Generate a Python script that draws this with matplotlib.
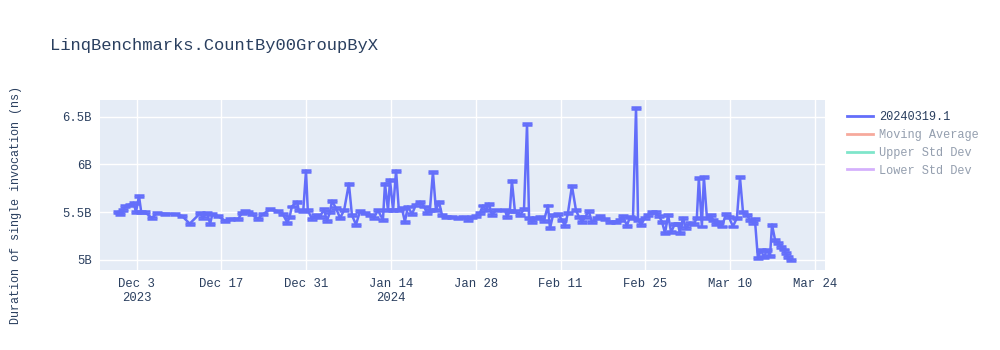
import numpy as np
import pandas as pd
import matplotlib
matplotlib.use("Agg")
import matplotlib.pyplot as plt
from matplotlib.lines import Line2D
from matplotlib.ticker import FuncFormatter

plt.rcParams['font.family'] = ['Liberation Mono', 'DejaVu Sans Mono']

title = "LinqBenchmarks.CountBy00GroupByX"
ylabel = "Duration of single invocation (ns)"
series_name = "20240319.1"
hidden_names = ["Moving Average", "Upper Std Dev", "Lower Std Dev"]

# run timestamps
run_dates = [
    "2023-11-29 21:00", "2023-11-30 06:00", "2023-11-30 18:00", "2023-12-01 03:00",
    "2023-12-01 21:00", "2023-12-02 12:00", "2023-12-02 21:00", "2023-12-03 09:00",
    "2023-12-03 18:00", "2023-12-04 09:00", "2023-12-05 12:00", "2023-12-06 09:00",
    "2023-12-07 15:00", "2023-12-09 09:00", "2023-12-10 12:00", "2023-12-11 18:00",
    "2023-12-13 12:00", "2023-12-13 21:00", "2023-12-14 15:00", "2023-12-15 03:00",
    "2023-12-15 12:00", "2023-12-16 09:00", "2023-12-17 15:00", "2023-12-18 09:00",
    "2023-12-19 18:00", "2023-12-20 09:00", "2023-12-20 21:00", "2023-12-21 09:00",
    "2023-12-22 00:00", "2023-12-23 00:00", "2023-12-23 21:00", "2023-12-25 00:00",
    "2023-12-26 09:00", "2023-12-27 03:00", "2023-12-27 21:00", "2023-12-28 06:00",
    "2023-12-28 15:00", "2023-12-29 12:00", "2023-12-29 18:00", "2023-12-30 12:00",
    "2023-12-30 23:00", "2023-12-31 06:00", "2023-12-31 23:00", "2024-01-01 15:00",
    "2024-01-02 06:00", "2024-01-02 22:00", "2024-01-03 10:00", "2024-01-03 22:00",
    "2024-01-04 06:00", "2024-01-04 22:00", "2024-01-05 14:00", "2024-01-06 06:00",
    "2024-01-07 01:00", "2024-01-07 13:00", "2024-01-08 05:00", "2024-01-08 21:00",
    "2024-01-09 17:00", "2024-01-10 12:00", "2024-01-11 04:00", "2024-01-11 20:00",
    "2024-01-12 16:00", "2024-01-13 00:00", "2024-01-13 12:00", "2024-01-13 20:00",
    "2024-01-14 08:00", "2024-01-14 20:00", "2024-01-15 07:00", "2024-01-15 19:00",
    "2024-01-16 07:00", "2024-01-16 19:00", "2024-01-17 11:00", "2024-01-18 03:00",
    "2024-01-18 19:00", "2024-01-19 11:00", "2024-01-19 22:00", "2024-01-20 10:00",
    "2024-01-20 22:00", "2024-01-21 10:00", "2024-01-21 22:00", "2024-01-22 10:00",
    "2024-01-23 02:00", "2024-01-24 02:00", "2024-01-25 01:00", "2024-01-25 21:00",
    "2024-01-26 17:00", "2024-01-27 09:00", "2024-01-28 01:00", "2024-01-28 16:00",
    "2024-01-29 04:00", "2024-01-29 16:00", "2024-01-30 04:00", "2024-01-30 16:00",
    "2024-01-31 08:00", "2024-02-01 20:00", "2024-02-02 04:00", "2024-02-02 15:00",
    "2024-02-02 23:00", "2024-02-03 11:00", "2024-02-04 07:00", "2024-02-04 23:00",
    "2024-02-05 11:00", "2024-02-05 19:00", "2024-02-06 07:00", "2024-02-06 22:00",
    "2024-02-07 14:00", "2024-02-08 06:00", "2024-02-08 22:00", "2024-02-09 06:00",
    "2024-02-09 18:00", "2024-02-10 14:00", "2024-02-11 05:00", "2024-02-11 17:00",
    "2024-02-12 05:00", "2024-02-12 21:00", "2024-02-13 13:00", "2024-02-14 01:00",
    "2024-02-14 13:00", "2024-02-15 01:00", "2024-02-15 16:00", "2024-02-16 04:00",
    "2024-02-17 00:00", "2024-02-17 12:00", "2024-02-18 08:00", "2024-02-19 04:00",
    "2024-02-20 03:00", "2024-02-20 19:00", "2024-02-21 07:00", "2024-02-21 23:00",
    "2024-02-22 11:00", "2024-02-22 23:00", "2024-02-23 11:00", "2024-02-23 19:00",
    "2024-02-24 07:00", "2024-02-24 22:00", "2024-02-25 10:00", "2024-02-26 02:00",
    "2024-02-26 18:00", "2024-02-27 06:00", "2024-02-27 18:00", "2024-02-28 06:00",
    "2024-02-28 18:00", "2024-02-29 06:00", "2024-02-29 21:00", "2024-03-01 09:00",
    "2024-03-01 17:00", "2024-03-02 05:00", "2024-03-02 17:00", "2024-03-03 09:00",
    "2024-03-04 01:00", "2024-03-04 12:00", "2024-03-04 20:00", "2024-03-05 08:00",
    "2024-03-05 16:00", "2024-03-06 04:00", "2024-03-06 20:00", "2024-03-07 04:00",
    "2024-03-07 16:00", "2024-03-08 04:00", "2024-03-08 16:00", "2024-03-09 07:00",
    "2024-03-09 19:00", "2024-03-10 11:00", "2024-03-11 03:00", "2024-03-11 15:00",
    "2024-03-12 03:00", "2024-03-12 19:00", "2024-03-13 06:00", "2024-03-13 18:00",
    "2024-03-14 02:00", "2024-03-14 14:00", "2024-03-15 02:00", "2024-03-15 14:00",
    "2024-03-16 02:00", "2024-03-16 14:00", "2024-03-16 22:00", "2024-03-17 10:00",
    "2024-03-17 22:00", "2024-03-18 09:00", "2024-03-18 21:00", "2024-03-19 05:00",
    "2024-03-19 13:00", "2024-03-20 01:00",
]

# mean duration per run, billions of ns
duration_b = [
    5.50, 5.48, 5.52, 5.565, 5.58, 5.60, 5.50, 5.67,
    5.50, 5.50, 5.44, 5.49, 5.485, 5.48, 5.46, 5.38,
    5.49, 5.44, 5.49, 5.38, 5.48, 5.46, 5.41, 5.43,
    5.43, 5.49, 5.51, 5.50, 5.48, 5.43, 5.48, 5.53,
    5.51, 5.48, 5.39, 5.45, 5.56, 5.61, 5.52, 5.51,
    5.935, 5.52, 5.43, 5.47, 5.45, 5.53, 5.41, 5.50,
    5.62, 5.54, 5.44, 5.52, 5.80, 5.47, 5.37, 5.51,
    5.49, 5.47, 5.44, 5.52, 5.42, 5.80, 5.52, 5.84,
    5.52, 5.935, 5.52, 5.54, 5.40, 5.56, 5.48, 5.58,
    5.61, 5.56, 5.49, 5.52, 5.92, 5.52, 5.61, 5.47,
    5.45, 5.45, 5.44, 5.45, 5.42, 5.45, 5.46, 5.49,
    5.57, 5.52, 5.59, 5.47, 5.52, 5.52, 5.45, 5.51,
    5.83, 5.51, 5.47, 5.53, 6.42, 5.44, 5.40, 5.44,
    5.45, 5.41, 5.57, 5.33, 5.47, 5.48, 5.42, 5.36,
    5.49, 5.775, 5.52, 5.45, 5.40, 5.45, 5.51, 5.40,
    5.44, 5.46, 5.43, 5.40, 5.40, 5.42, 5.46, 5.36,
    5.45, 5.44, 6.59, 5.42, 5.37, 5.44, 5.47, 5.50,
    5.50, 5.46, 5.40, 5.28, 5.47, 5.29, 5.38, 5.38,
    5.28, 5.44, 5.33, 5.39, 5.38, 5.44, 5.855, 5.35,
    5.87, 5.44, 5.47, 5.42, 5.38, 5.40, 5.35, 5.48,
    5.45, 5.35, 5.44, 5.865, 5.50, 5.47, 5.42, 5.39,
    5.43, 5.02, 5.10, 5.035, 5.10, 5.04, 5.37, 5.21,
    5.175, 5.14, 5.11, 5.07, 5.03, 5.00,
]

std_b = 0.01  # spread of a single run, billions of ns

tick_dates = ["2023-12-03", "2023-12-17", "2023-12-31", "2024-01-14", "2024-01-28",
              "2024-02-11", "2024-02-25", "2024-03-10", "2024-03-24"]
y_ticks = [5.0e9, 5.5e9, 6.0e9, 6.5e9]

x = pd.to_datetime(run_dates)
y = np.array(duration_b) * 1e9
yerr = np.full(len(y), std_b * 1e9)

blue = "#636efa"
text_col = "#2a3f5f"

fig = plt.figure(figsize=(10, 3.5), dpi=100)
ax = fig.add_axes([0.10, 0.2286, 0.725, 0.4857])
ax.set_facecolor("#E5ECF6")
for s in ax.spines.values():
    s.set_visible(False)

ax.errorbar(x, y, yerr=yerr, color=blue, lw=1.8, elinewidth=1.6,
            capsize=3.5, capthick=1.8, zorder=3)

ax.set_xlim(pd.Timestamp("2023-11-26 22:30"), pd.Timestamp("2024-03-25 16:00"))
ax.set_ylim(4.895e9, 6.675e9)

ticks = pd.to_datetime(tick_dates)
labels = []
prev_year = None
for t in ticks:
    lab = f"{t.strftime('%b')} {t.day}"
    if t.year != prev_year:
        lab += f"\n{t.year}"
        prev_year = t.year
    labels.append(lab)
ax.set_xticks(ticks)
ax.set_xticklabels(labels)
ax.set_yticks(y_ticks)
ax.yaxis.set_major_formatter(FuncFormatter(lambda v, p: f"{v / 1e9:g}B"))

ax.grid(True, color="white", lw=1)
ax.set_axisbelow(True)
ax.tick_params(length=0, labelsize=8.8, colors=text_col, pad=6)

ax.set_ylabel(ylabel, fontsize=8.5, color=text_col)
ax.yaxis.set_label_coords(-0.108, 0.38)
fig.text(0.05, 0.87, title, fontsize=12.3, color=text_col, ha="left", va="center")

handles = [Line2D([], [], color=blue, lw=2)]
for c in ["#EF553B", "#00cc96", "#ab63fa"]:
    handles.append(Line2D([], [], color=c, lw=2, alpha=0.5))
leg = ax.legend(handles, [series_name] + hidden_names, loc="upper left",
                bbox_to_anchor=(1.015, 1.0), frameon=False, fontsize=8.6,
                handlelength=2.2, handletextpad=0.5, labelspacing=0.5)
for i, t in enumerate(leg.get_texts()):
    t.set_color(text_col)
    if i > 0:
        t.set_alpha(0.5)

fig.savefig("out.png", dpi=100)
